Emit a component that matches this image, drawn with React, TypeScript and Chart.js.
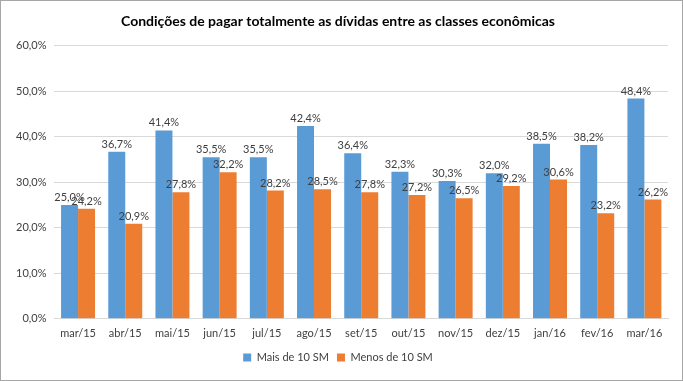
import React, { useEffect, useRef } from "react";
import { Chart, registerables } from "chart.js";

Chart.register(...registerables);

const categories = ["mar/15", "abr/15", "mai/15", "jun/15", "jul/15", "ago/15", "set/15", "out/15", "nov/15", "dez/15", "jan/16", "fev/16", "mar/16"];
const maisDe10SM = [25.0, 36.7, 41.4, 35.5, 35.5, 42.4, 36.4, 32.3, 30.3, 32.0, 38.5, 38.2, 48.4];
const menosDe10SM = [24.2, 20.9, 27.8, 32.2, 28.2, 28.5, 27.8, 27.2, 26.5, 29.2, 30.6, 23.2, 26.2];
const seriesNames = ["Mais de 10 SM", "Menos de 10 SM"];
const titleText = "Condições de pagar totalmente as dívidas entre as classes econômicas";

const FONT = "Lato, 'Open Sans', sans-serif";
const fmt = (v: number) => v.toFixed(1).replace(".", ",") + "%";

const labelPlugin = {
  id: "barLabels",
  afterDatasetsDraw(chart: any) {
    const ctx = chart.ctx;
    ctx.save();
    ctx.font = `11px ${FONT}`;
    ctx.fillStyle = "#404040";
    ctx.textAlign = "center";
    ctx.textBaseline = "bottom";
    chart.data.datasets.forEach((ds: any, i: number) => {
      const meta = chart.getDatasetMeta(i);
      meta.data.forEach((bar: any, j: number) => {
        ctx.fillText(fmt(ds.data[j]), bar.x, bar.y - 2);
      });
    });
    ctx.restore();
  },
};

export default function App() {
  const ref = useRef<HTMLCanvasElement>(null);
  useEffect(() => {
    const chart = new Chart(ref.current!, {
      type: "bar",
      data: {
        labels: categories,
        datasets: [
          { label: seriesNames[0], data: maisDe10SM, backgroundColor: "#5B9BD5" },
          { label: seriesNames[1], data: menosDe10SM, backgroundColor: "#ED7D31" },
        ],
      },
      options: {
        animation: false,
        responsive: false,
        layout: { padding: { left: 7, right: 14, top: 8, bottom: 7 } },
        datasets: { bar: { categoryPercentage: 0.72, barPercentage: 1 } },
        plugins: {
          title: {
            display: true,
            text: titleText,
            color: "#000000",
            font: { family: FONT, size: 14, weight: "bold" },
            padding: { top: 4, bottom: 16 },
          },
          legend: {
            position: "bottom",
            labels: {
              boxWidth: 8,
              boxHeight: 8,
              color: "#404040",
              font: { family: FONT, size: 11 },
              padding: 8,
            },
          },
          tooltip: { enabled: false },
        },
        scales: {
          x: {
            grid: { display: false },
            border: { display: true, color: "#D9D9D9" },
            ticks: { color: "#404040", font: { family: FONT, size: 11 }, padding: 0, maxRotation: 0 },
            afterFit: (scale: any) => {
              scale.height += 4;
            },
          },
          y: {
            min: 0,
            max: 60,
            ticks: {
              stepSize: 10,
              color: "#404040",
              font: { family: FONT, size: 11 },
              padding: 8,
              callback: (v: any) => fmt(Number(v)),
            },
            grid: { color: "#D9D9D9", drawTicks: false },
            border: { display: false },
          },
        },
      },
      plugins: [labelPlugin],
    });
    return () => chart.destroy();
  }, []);
  return (
    <div style={{ position: "fixed", left: 0, top: 0, width: 683, height: 381, boxSizing: "border-box", border: "1px solid #A6A6A6", background: "#fff" }}>
      <canvas ref={ref} width={681} height={379} style={{ display: "block" }} />
    </div>
  );
}
